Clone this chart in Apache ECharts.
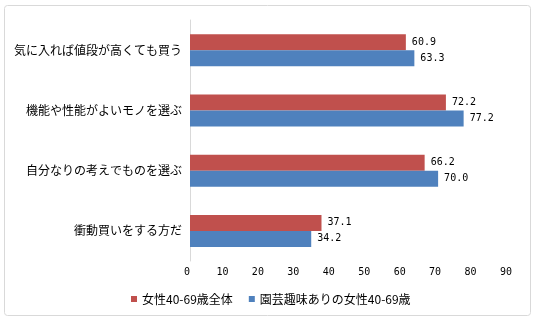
<!DOCTYPE html>
<html><head><meta charset="utf-8">
<script src="https://cdn.jsdelivr.net/npm/echarts@6/dist/echarts.min.js"></script>
<style>html,body{margin:0;padding:0;background:#fff}#c{width:536px;height:321px}</style>
</head><body><div id="c"></div>
<script>
const categories = ['気に入れば値段が高くても買う','機能や性能がよいモノを選ぶ','自分なりの考えでものを選ぶ','衝動買いをする方だ'];
const seriesNames = ['女性40-69歳全体','園芸趣味ありの女性40-69歳'];
const allWomen = [60.9, 72.2, 66.2, 37.1];
const gardening = [63.3, 77.2, 70.0, 34.2];
const valueTicks = [0,10,20,30,40,50,60,70,80,90];

const chart = echarts.init(document.getElementById('c'), null, {renderer:'canvas'});
const lbl = {show:true, position:'right', distance:6, fontFamily:'DejaVu Sans Mono', fontSize:10, color:'#000', formatter: p => p.value.toFixed(1)};
chart.setOption({
  animation:false,
  graphic:[{type:'rect', shape:{x:4.5,y:5.5,width:526,height:310,r:3}, style:{fill:'none', stroke:'#D9D9D9', lineWidth:1}}],
  grid:{left:190, right:27, top:20, bottom:60},
  legend:{left:131, top:293, padding:0, itemWidth:6, itemHeight:6, itemGap:16, icon:'rect',
    textStyle:{fontFamily:'Noto Sans CJK JP', fontSize:12, color:'#000'}, data:seriesNames},
  xAxis:{type:'value', min:valueTicks[0], max:valueTicks[valueTicks.length-1], interval:10,
    axisLine:{show:false}, axisTick:{show:false}, splitLine:{show:false},
    axisLabel:{margin:6, padding:[0,6,0,0], fontFamily:'DejaVu Sans Mono', fontSize:10, color:'#000'}},
  yAxis:{type:'category', inverse:true, data:categories,
    axisLine:{show:true, lineStyle:{color:'#D9D9D9'}}, axisTick:{show:false},
    axisLabel:{margin:8, fontFamily:'Noto Sans CJK JP', fontSize:12, color:'#000'}},
  series:[
    {name:seriesNames[0], type:'bar', data:allWomen, barWidth:16, barGap:'0%', itemStyle:{color:'#C0504D'}, label:lbl},
    {name:seriesNames[1], type:'bar', data:gardening, barWidth:16, barGap:'0%', itemStyle:{color:'#4F81BD'}, label:lbl}
  ]
});
</script></body></html>
